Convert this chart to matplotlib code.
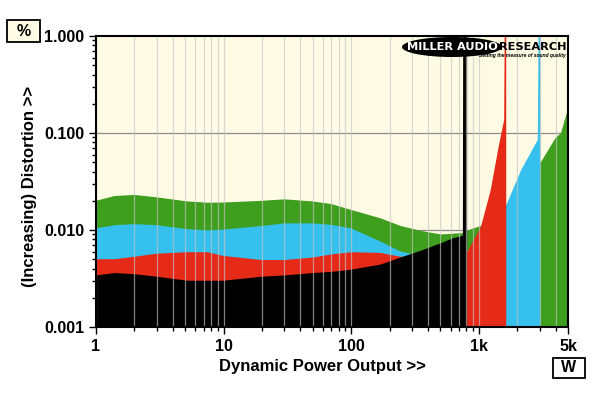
import matplotlib
matplotlib.use("Agg")
import matplotlib.pyplot as plt
from matplotlib.patches import Ellipse, Rectangle

plt.rcParams['font.family'] = ['Liberation Sans', 'DejaVu Sans']
plt.rcParams['font.weight'] = 'bold'

#----------
## Data (power in W, distortion in %)
#----------

green_w = [1, 1.4, 2, 3, 5.2, 7.5, 10, 20, 30, 50, 70, 100, 170, 244, 350, 505, 750,
           870, 1040, 1500, 2000, 2500, 3040, 4000, 4400, 4950, 4975, 5000]
green_pct = [0.0200, 0.0224, 0.0230, 0.0217, 0.0197, 0.0191, 0.0192, 0.0200, 0.0207, 0.0197,
             0.0185, 0.0161, 0.0132, 0.0110, 0.0098, 0.0090, 0.0093,
             0.0102, 0.0110, 0.0160, 0.0240, 0.0340, 0.049, 0.089, 0.099, 0.17, 2.0, 2.0]

cyan_w = [1, 1.4, 2, 3, 5.2, 7.5, 10, 20, 30, 50, 70, 100, 170, 244, 290, 500, 830,
          1200, 1633, 2150, 2900, 2950, 3040]
cyan_pct = [0.0104, 0.0112, 0.0115, 0.0112, 0.0102, 0.0099, 0.0101, 0.0110, 0.0117, 0.0117,
            0.0113, 0.0104, 0.0076, 0.0060, 0.0057, 0.0058, 0.0062,
            0.0090, 0.0177, 0.0416, 0.085, 2.0, 2.0]

red_w = [1, 1.4, 2, 3, 5.2, 7.5, 10, 20, 30, 50, 70, 100, 170, 244, 500, 815,
         1040, 1240, 1430, 1580, 1600, 1640]
red_pct = [0.0050, 0.0050, 0.0053, 0.0057, 0.0059, 0.0059, 0.0054, 0.0049, 0.0049, 0.0052,
           0.0056, 0.0059, 0.0058, 0.0053, 0.0055, 0.0060,
           0.0108, 0.0258, 0.072, 0.136, 2.0, 2.0]

black_w = [1, 1.4, 2, 3, 5.2, 7.5, 10, 20, 30, 50, 70, 100, 170, 244, 350, 505, 624,
           750, 755, 810]
black_pct = [0.0034, 0.0036, 0.0035, 0.0033, 0.0030, 0.0030, 0.0030, 0.0033, 0.0034, 0.0036,
             0.0037, 0.0039, 0.0044, 0.0052, 0.0061, 0.0073, 0.0082,
             0.0087, 2.0, 2.0]

x_ticks = [1, 10, 100, 1000, 5000]
x_labels = ['1', '10', '100', '1k', '5k']
y_ticks = [0.001, 0.01, 0.1, 1.0]
y_labels = ['0.001', '0.010', '0.100', '1.000']

W, H = 600, 393  # figure size in pixels, used to place boxes/logo

#----------
## Figure and axes
#----------

fig = plt.figure(figsize=(6, 3.93), dpi=100)
ax = fig.add_axes([96 / W, 1 - 327 / H, (568 - 96) / W, (327 - 36) / H])
ax.set_xscale('log')
ax.set_yscale('log')
ax.set_xlim(1, 5000)
ax.set_ylim(0.001, 1.0)
ax.set_facecolor('#FEFBE4')

# horizontal decade lines sit behind the fills
for yv in [0.01, 0.1]:
    ax.axhline(yv, color='#8c8c8c', lw=0.9, zorder=0.5)

# filled traces, back to front
traces = [
    (green_w, green_pct, '#3E9E1E'),
    (cyan_w, cyan_pct, '#36C0EE'),
    (red_w, red_pct, '#E62A18'),
    (black_w, black_pct, '#000000'),
]
for i, (xs, ys, col) in enumerate(traces):
    ax.fill_between(xs, 1e-4, ys, color=col, lw=0, zorder=1 + i * 0.1)

# vertical grid lines drawn over the fills
minor_x = [m * 10 ** d for d in range(0, 3) for m in range(2, 10)] + [2000, 3000, 4000]
for xv in x_ticks + minor_x:
    ax.axvline(xv, color='#c4c4c4', lw=0.9, alpha=0.65, zorder=3)

ax.set_xticks(x_ticks)
ax.set_xticklabels(x_labels)
ax.set_xticks(minor_x, minor=True)
ax.set_yticks(y_ticks)
ax.set_yticklabels(y_labels)
ax.tick_params(which='major', length=5, width=1, labelsize=11.5, direction='out')
ax.tick_params(which='minor', length=3, width=1, direction='out')
ax.tick_params(axis='x', which='minor', labelbottom=False)
ax.tick_params(axis='y', which='minor', labelleft=False)
for s in ax.spines.values():
    s.set_linewidth(1.5)
    s.set_zorder(5)

# axis titles placed in figure pixels
fig.text(322 / W, 1 - 366 / H, 'Dynamic Power Output >>', ha='center', va='center',
         fontsize=12, fontweight='bold')
fig.text(30 / W, 1 - 186 / H, '(Increasing) Distortion >>', ha='center', va='center',
         rotation=90, fontsize=12, fontweight='bold')

#----------
## Unit boxes
#----------

fig.add_artist(Rectangle((7 / W, 1 - 42 / H), 33 / W, 22 / H, transform=fig.transFigure,
                         fc='#FEFBE4', ec='black', lw=1.3))
fig.text(23.5 / W, 1 - 31 / H, '%', ha='center', va='center', fontsize=11.5)
fig.add_artist(Rectangle((553 / W, 1 - 378 / H), 32 / W, 20 / H, transform=fig.transFigure,
                         fc='white', ec='black', lw=1.3))
fig.text(569 / W, 1 - 368 / H, 'W', ha='center', va='center', fontsize=11.5)

#----------
## Logo
#----------

fig.add_artist(Ellipse((452 / W, 1 - 47 / H), 100 / W, 20 / H,
                       transform=fig.transFigure, fc='black', ec='none', zorder=10))
fig.text(452 / W, 1 - 46.5 / H, 'MILLER AUDIO', color='white', ha='center', va='center',
         fontsize=8.2, fontweight='heavy', family='DejaVu Sans', zorder=11)
fig.text(566 / W, 1 - 46.5 / H, 'RESEARCH', color='black', ha='right', va='center',
         fontsize=8.2, fontweight='heavy', family='DejaVu Sans', zorder=11)
fig.text(566 / W, 1 - 55.5 / H, 'Setting the measure of sound quality', color='black',
         ha='right', va='center', fontsize=3.6, style='italic', fontweight='bold', zorder=11)

fig.savefig('out.png', dpi=100)
